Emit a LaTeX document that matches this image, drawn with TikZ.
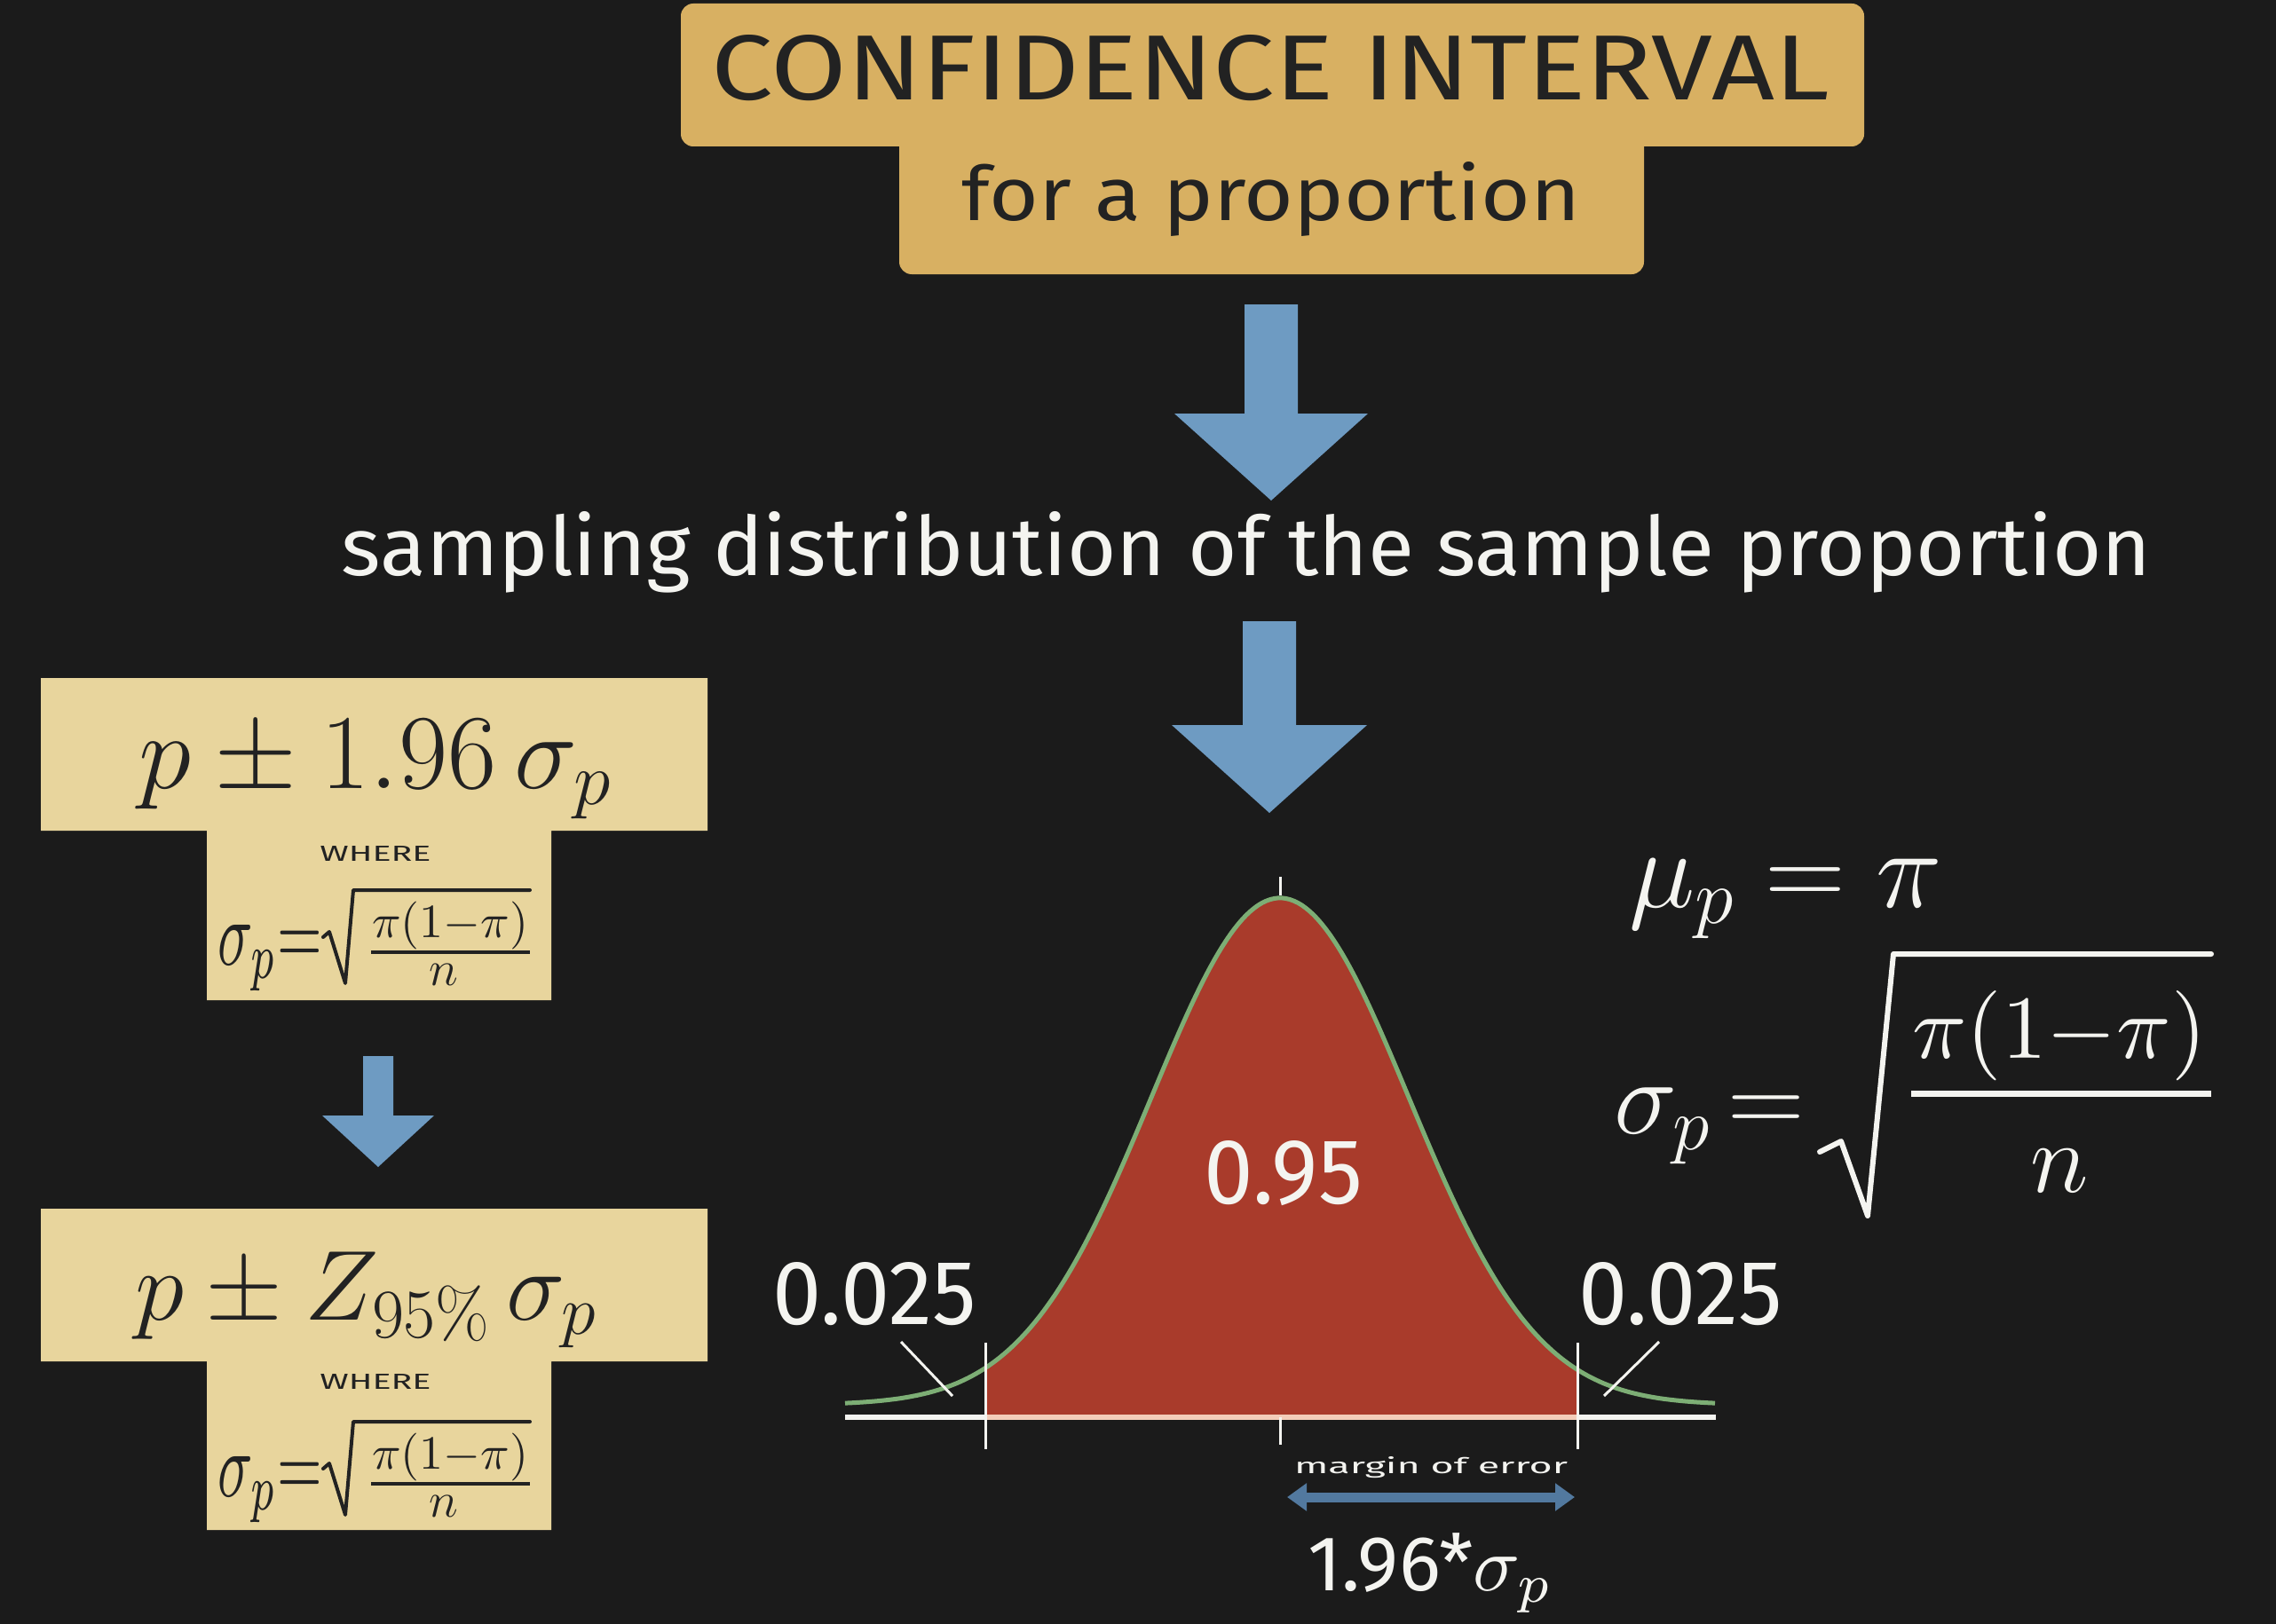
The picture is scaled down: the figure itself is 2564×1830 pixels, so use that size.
\RequirePackage{fix-cm}
\documentclass[tikz,border=0pt]{standalone}
\usepackage{graphicx}
\usepackage{fontspec}
\newfontfamily\hand{Fira Sans}
\usetikzlibrary{calc,arrows.meta}

\definecolor{bg}{HTML}{1B1B1B}
\definecolor{gold}{HTML}{D8B062}
\definecolor{paleyellow}{HTML}{E8D59D}
\definecolor{arrowblue}{HTML}{6E9BC2}
\definecolor{darkblue}{HTML}{52799F}
\definecolor{bellred}{HTML}{A93B2B}
\definecolor{bellgreen}{HTML}{7DAE75}
\definecolor{chalk}{HTML}{F4F4F0}
\definecolor{ink}{HTML}{222222}
\definecolor{pinkaxis}{HTML}{F3CDB9}

\newcommand{\blockarrow}[5]{%
  \fill[arrowblue] ($(#1)+(-#3,0)$) -- ($(#1)+(#3,0)$) -- ($(#2)+(#3,-#5)$)
    -- ($(#2)+(#4,-#5)$) -- (#2) -- ($(#2)+(-#4,-#5)$) -- ($(#2)+(-#3,-#5)$) -- cycle;}

% small standard-error formula inside a pale box; #1 name prefix, #2 vertical offset (px)
\newcommand{\seformula}[2]{%
  \begin{scope}[yshift=-#2pt]
  \node[text=ink, anchor=base west] (#1lhs) at (245,1087) {\resizebox{118pt}{45pt}{$\sigma_p{=}$}};
  \node[text=ink, anchor=base] (#1num) at (507,1056) {\resizebox{176pt}{!}{$\pi(1{-}\pi)$}};
  \node[text=ink, anchor=base] (#1den) at (500,1110) {\fontsize{56}{56}\selectfont$n$};
  \coordinate (#1bl) at (418,1073); \coordinate (#1br) at (597,1073);
  \draw[smallbar] (#1bl) -- (#1br);
  \coordinate (#1r1) at (364,1056); \coordinate (#1r2) at (371,1050);
  \coordinate (#1r3) at (389,1108); \coordinate (#1r4) at (398,1003);
  \coordinate (#1r5) at (597,1003);
  \draw[smallradical] (#1r1) -- (#1r2) -- (#1r3) -- (#1r4) -- (#1r5);
  \end{scope}}

\tikzset{
  every node/.style={inner sep=0pt, outer sep=0pt},
  titletext/.style={font=\hand, text=ink},
  boxtext/.style={font=\hand, text=ink},
  chalktext/.style={font=\hand, text=chalk},
  pointer/.style={draw=chalk, line width=3pt},
  ticks/.style={draw=chalk, line width=3pt},
  radical/.style={draw=chalk, line width=6pt, line join=round, line cap=round},
  smallradical/.style={draw=ink, line width=4pt, line join=round, line cap=round},
  smallbar/.style={draw=ink, line width=4pt},
  moearrow/.style={draw=darkblue, line width=11pt,
    {Triangle[length=22pt,width=30pt]}-{Triangle[length=22pt,width=30pt]}},
}

\begin{document}
\begin{tikzpicture}[x=1pt,y=-1pt]
\useasboundingbox (0,0) rectangle (2564,1830);
\fill[bg] (0,0) rectangle (2564,1830);

% ---------- title box ----------
\fill[gold, rounded corners=14pt] (767,4) rectangle (2100,165);
\fill[gold, rounded corners=14pt] (1013,140) rectangle (1852,309);
\node[titletext, anchor=base] (title) at (1431,113) {\resizebox{1259pt}{73pt}{CONFIDENCE INTERVAL}};
\node[titletext, anchor=base] (subtitle) at (1432,248) {\resizebox{696pt}{66pt}{for a proportion}};

% ---------- arrow 1 ----------
\coordinate (a1s) at (1432,343);
\coordinate (a1e) at (1432,564);
\blockarrow{a1s}{a1e}{30}{109}{98}

% ---------- sampling text ----------
\node[chalktext, anchor=base] (sampling) at (1404,648) {\resizebox{2038pt}{72pt}{sampling distribution of the sample proportion}};

% ---------- arrow 2 ----------
\coordinate (a2s) at (1430,700);
\coordinate (a2e) at (1430,916);
\blockarrow{a2s}{a2e}{30}{110}{99}

% ---------- left box 1 ----------
\fill[paleyellow] (46,764) -- (797,764) -- (797,936) -- (621,936) -- (621,1127)
  -- (233,1127) -- (233,936) -- (46,936) -- cycle;
\node[text=ink, anchor=base] (ci1) at (422,888) {\fontsize{120}{120}\selectfont$p\pm1.96\,\sigma_p$};
\node[boxtext] (where1) at (423,962) {\resizebox{125pt}{17pt}{WHERE}};
\seformula{se1}{0}

% ---------- arrow 3 ----------
\coordinate (a3s) at (426,1190);
\coordinate (a3e) at (426,1315);
\blockarrow{a3s}{a3e}{17}{63}{58}

% ---------- left box 2 ----------
\fill[paleyellow] (46,1362) -- (797,1362) -- (797,1534) -- (621,1534) -- (621,1724)
  -- (233,1724) -- (233,1534) -- (46,1534) -- cycle;
\node[text=ink, anchor=base] (ci2) at (412,1487) {\fontsize{112}{112}\selectfont$p\pm Z_{95\%}\,\sigma_p$};
\node[boxtext] (where2) at (423,1557) {\resizebox{125pt}{17pt}{WHERE}};
\seformula{se2}{599}

% ---------- bell curve ----------
\fill[bellred] plot[domain=1110:1777, samples=150]
  (\x,{1583-571*exp(-0.5*((\x-1442)/145)*((\x-1442)/145))}) -- (1777,1596) -- (1110,1596) -- cycle;
\draw[chalk, line width=6pt] (952,1597) -- (1933,1597);
\draw[pinkaxis, line width=6pt] (1110,1597) -- (1777,1597);
\draw[bellgreen, line width=5pt, line join=round] plot[domain=952:1932, samples=220]
  (\x,{1583-571*exp(-0.5*((\x-1442)/145)*((\x-1442)/145))});
\draw[ticks] (1110,1513) -- (1110,1633);
\draw[ticks] (1777,1513) -- (1777,1633);
\draw[ticks] (1442,1597) -- (1442,1628);
\draw[ticks] (1442,988) -- (1442,1009);

\node[chalktext] (mid) at (1446,1322) {\resizebox{178pt}{71pt}{0.95}};
\node[chalktext] (lq) at (985,1458) {\resizebox{229pt}{70pt}{0.025}};
\node[chalktext] (rq) at (1893,1458) {\resizebox{229pt}{70pt}{0.025}};
\coordinate (lp1) at (1015,1512); \coordinate (lp2) at (1073,1573);
\coordinate (rp1) at (1869,1512); \coordinate (rp2) at (1807,1573);
\draw[pointer] (lp1) -- (lp2);
\draw[pointer] (rp1) -- (rp2);

% ---------- margin of error ----------
\node[chalktext, anchor=base] (moe) at (1612,1660) {\resizebox{308pt}{19pt}{margin of error}};
\coordinate (moeL) at (1450,1687);
\coordinate (moeR) at (1774,1687);
\draw[moearrow] (moeL) -- (moeR);
\node[chalktext, anchor=base west] (moeval) at (1473,1792) {\resizebox{277pt}{!}{1.96*$\sigma_p$}};

% ---------- right formulas ----------
\node[text=chalk, anchor=base west] (mu) at (1835,1022) {\fontsize{126}{126}\selectfont$\mu_p=\pi$};
\node[text=chalk, anchor=base west] (sdlhs) at (1818,1277) {\fontsize{120}{120}\selectfont$\sigma_p\,{=}$};
\node[text=chalk, anchor=base] (num) at (2320,1192) {\resizebox{331pt}{!}{$\pi(1{-}\pi)$}};
\node[text=chalk, anchor=base] (den) at (2320,1343) {\fontsize{112}{112}\selectfont$n$};
\coordinate (barL) at (2153,1232); \coordinate (barR) at (2491,1232);
\draw[chalk, line width=7pt] (barL) -- (barR);
\coordinate (r1) at (2050,1298); \coordinate (r2) at (2074,1286);
\coordinate (r3) at (2104,1370); \coordinate (r4) at (2133,1075);
\coordinate (r5) at (2491,1075);
\draw[radical] (r1) -- (r2) -- (r3) -- (r4) -- (r5);
\end{tikzpicture}
\end{document}
